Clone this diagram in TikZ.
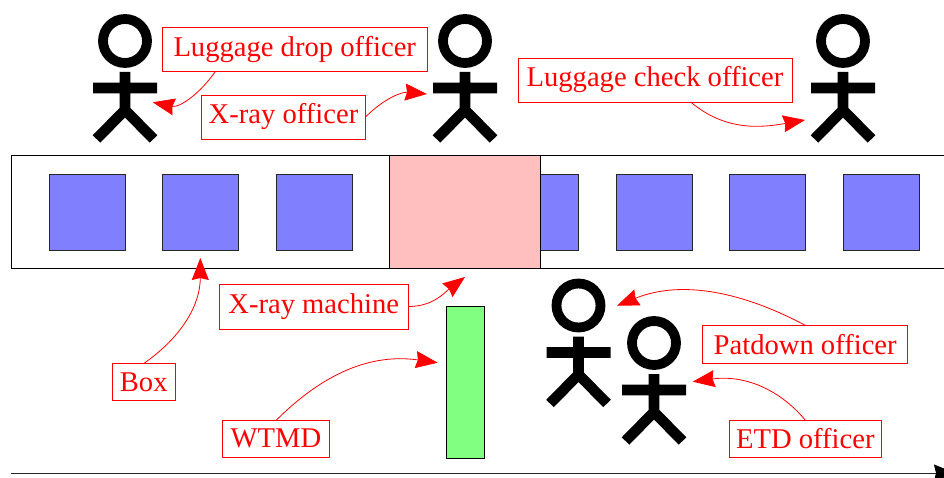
\documentclass[tikz,border=0pt]{standalone}
\usepackage{fontspec}
\setmainfont{Liberation Serif}
\usetikzlibrary{arrows.meta,calc}
\tikzset{
  x=1pt,y=-1pt,
  every node/.style={outer sep=0pt},
  label box/.style={draw=red,line width=.8pt,text=red,inner sep=0pt,font=\fontsize{28.6}{32}\selectfont,fill=white},
  callout/.style={draw=red,line width=.8pt,-{Stealth[length=22pt,width=17pt,inset=2pt,color=red]}},
  item/.style={draw=black!85,line width=.8pt,fill=blue!50},
  figure part/.style={draw=black,line width=10.6pt},
  pics/officer/.style={code={
    \draw[figure part,line width=9.8pt] (0,0) circle[radius=22];
    \draw[figure part] (0,31) -- (0,69) (-32,47) -- (32,47) (-28.5,98) -- (0,69) -- (28.5,98);
  }}
}
\begin{document}
\begin{tikzpicture}
\useasboundingbox (0,0) rectangle (944,478);
% conveyor and boxes
\node[draw=black,line width=.8pt,minimum width=940pt,minimum height=113.5pt,inner sep=0pt,anchor=north west] (belt) at (11,155) {};
\foreach \n/\x in {b1/49,b2/162.5,b3/276,b4/502.5,b5/616,b6/729.5,b7/843}
  \node[item,minimum width=76pt,minimum height=76pt,inner sep=0pt,anchor=north west] (\n) at (\x,174) {};
\node[draw=black,line width=.8pt,fill=red!25,minimum width=151pt,minimum height=113.5pt,inner sep=0pt,anchor=north west] (xm) at (389.5,155) {};
\node[draw=black,line width=.8pt,fill=green!50,minimum width=38pt,minimum height=151.5pt,inner sep=0pt,anchor=north west] (wtmd) at (446,306.5) {};
% officers
\pic at (125,41) {officer};
\pic at (465,41) {officer};
\pic at (843,41) {officer};
\pic at (578.5,305.5) {officer};
\pic at (654,343) {officer};
% labels
\node[label box,minimum width=264.5pt,minimum height=44.5pt] (ldo) at (294.75,49.25) {Luggage drop officer};
\node[label box,minimum width=164pt,minimum height=44pt] (xo) at (283.5,117) {X-ray officer};
\node[label box,minimum width=274pt,minimum height=44pt] (lco) at (655,80) {Luggage check officer};
\node[label box,minimum width=189.5pt,minimum height=45pt] (xmm) at (313.75,306.5) {X-ray machine};
\node[label box,minimum width=62.5pt,minimum height=37pt] (boxl) at (143.75,382) {Box};
\node[label box,minimum width=107pt,minimum height=36.5pt] (wt) at (276,438.75) {WTMD};
\node[label box,minimum width=205pt,minimum height=38pt] (pd) at (805.2,344.3) {Patdown officer};
\node[label box,minimum width=152pt,minimum height=37.5pt] (etd) at (805.3,438.9) {ETD officer};
% free ends
\coordinate (t1) at (152.7,102.3);
\coordinate (t2) at (427,94);
\coordinate (t3) at (805,120);
\coordinate (t4) at (465,277);
\coordinate (t5) at (200.3,258);
\coordinate (t6) at (437.7,362.7);
\coordinate (t7) at (617,305.7);
\coordinate (t8) at (692.7,381.7);
\coordinate (a0) at (11,473);
\coordinate (a1) at (955,473);
% connectors
\draw[callout] ($(ldo.south west)!.2!(ldo.south east)$) to[out=-125,in=-12] (t1);
\draw[callout] (xo.east) to[out=45,in=175] (t2);
\draw[callout] ($(lco.south west)!.63!(lco.south east)$) to[out=-40,in=190] (t3);
\draw[callout] (xmm.east) to[out=0,in=-143] (t4);
\draw[callout] (boxl.north) to[out=35,in=-90] (t5);
\draw[callout] (wt.north) to[out=45,in=172] (t6);
\draw[callout] (pd.north) to[out=152,in=22,looseness=.95] (t7);
\draw[callout] (etd.north) to[out=130,in=8] (t8);
\draw[line width=.9pt,black!85,-{Stealth[length=21pt,width=17pt,inset=2pt,color=black]}] (a0) -- (a1);
\end{tikzpicture}
\end{document}
